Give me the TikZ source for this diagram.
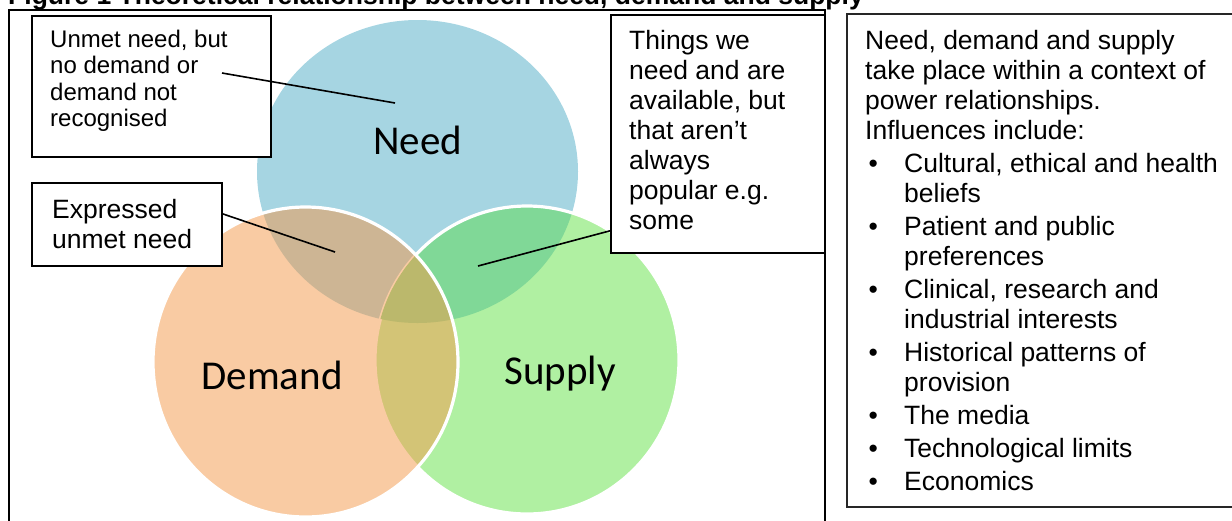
\documentclass[tikz,border=0pt]{standalone}
\usepackage{fontspec}
\setmainfont{Liberation Sans}
\newfontfamily\vennfont{Carlito}
\usepackage{tikz}
\definecolor{needblue}{HTML}{A6D5E2}
\definecolor{demandorange}{HTML}{F9CBA3}
\definecolor{supplygreen}{HTML}{B0F0A2}
\definecolor{needdemand}{HTML}{CDB594}
\definecolor{needsupply}{HTML}{80D897}
\definecolor{demandsupply}{HTML}{D3C476}
\definecolor{allthree}{HTML}{BBB86C}
\newcommand{\influence}{\hspace*{3.4pt}\makebox[35.6pt][l]{\textbullet}}
\newcommand{\wrapped}{\hspace*{39pt}}
\tikzset{
		need size/.style={x radius=160.5, y radius=151.5},
		demand size/.style={x radius=152.5, y radius=155},
		supply size/.style={x radius=152, y radius=154},
		rim/.style={draw=white, line width=3.2pt},
		callbox/.style={draw, fill=white, line width=1.8pt, anchor=north west, inner sep=0pt},
		calltext/.style={anchor=north west, inner sep=0pt, align=left, font=\fontsize{26.5}{30}\selectfont},
		venn label/.style={anchor=base, inner sep=0pt, font=\vennfont\fontsize{41}{41}\selectfont},
		pointer/.style={line width=1.6pt}
	}

\begin{document}
\begin{tikzpicture}[x=1pt, y=-1pt]
				\useasboundingbox (0,0) rectangle (1232,520);
				\clip (0,0) rectangle (1232,520);

				\coordinate (need)   at (417.5,171.5);
				\coordinate (demand) at (305.5,362);
				\coordinate (supply) at (527,360);

				\fill[needblue] (need) ellipse [need size];
				\fill[supplygreen] (supply) ellipse [supply size];
				\begin{scope}
					\clip (need) ellipse [need size];
					\fill[needsupply] (supply) ellipse [supply size];
				\end{scope}
				\draw[rim] (supply) ellipse [supply size];
				\fill[demandorange] (demand) ellipse [demand size];
				\begin{scope}
					\clip (demand) ellipse [demand size];
					\fill[needdemand] (need) ellipse [need size];
					\fill[demandsupply] (supply) ellipse [supply size];
					\draw[rim, draw=demandorange] (supply) ellipse [supply size];
					\clip (need) ellipse [need size];
					\fill[allthree] (supply) ellipse [supply size];
				\end{scope}
				\draw[rim] (demand) ellipse [demand size];

				\node[venn label] (needlbl)   at (417.5,154) {Need};
				\node[venn label] (demandlbl) at (272,389)   {Demand};
				\node[venn label] (supplylbl) at (560,384)   {Supply};

				\draw[line width=2.2pt] (9,10) rectangle (825,540);
				\node[anchor=base west, inner sep=0pt, font=\bfseries\fontsize{26.5}{30}\selectfont] (title) at (8,4)
					{Figure 1 Theoretical relationship between need, demand and supply};

				\node[callbox, minimum width=239pt, minimum height=141pt] (unmetbox)     at (31,15)  {};
				\node[callbox, minimum width=190pt, minimum height=83pt]  (expressedbox) at (31,182) {};
				\node[callbox, minimum width=214pt, minimum height=238pt] (thingsbox)    at (610,14) {};
				\node[callbox, draw=black!85, minimum width=420pt, minimum height=493pt] (contextbox) at (846,13) {};

				\node[calltext, font=\fontsize{24}{26.5}\selectfont] (unmet) at (50,29.5)
					{Unmet need, but\\no demand or\\demand not\\recognised};
				\node[calltext] (expressed) at (52,199) {Expressed\\unmet need};
				\node[calltext] (things) at (629,30)
					{Things we\\need and are\\available, but\\that aren’t\\always\\popular e.g.\\some};
				\node[calltext] (context) at (865,30)
					{Need, demand and supply\\take place within a context of\\power relationships.\\Influences include:\\[3pt]
					\influence Cultural, ethical and health\\\wrapped beliefs\\[3pt]
					\influence Patient and public\\\wrapped preferences\\[3pt]
					\influence Clinical, research and\\\wrapped industrial interests\\[3pt]
					\influence Historical patterns of\\\wrapped provision\\[3pt]
					\influence The media\\[3pt]
					\influence Technological limits\\[3pt]
					\influence Economics};

				\coordinate (unmetfrom)    at (222,73);
				\coordinate (unmettip)     at (395,103);
				\coordinate (expressedtip) at (335,252);
				\coordinate (thingstip)    at (478,266);

				\draw[pointer] (unmetfrom) -- (unmettip);
				\draw[pointer] ([yshift=10.5pt]expressedbox.east) -- (expressedtip);
				\draw[pointer] ([yshift=23pt]thingsbox.south west) -- (thingstip);
			\end{tikzpicture}
\end{document}
